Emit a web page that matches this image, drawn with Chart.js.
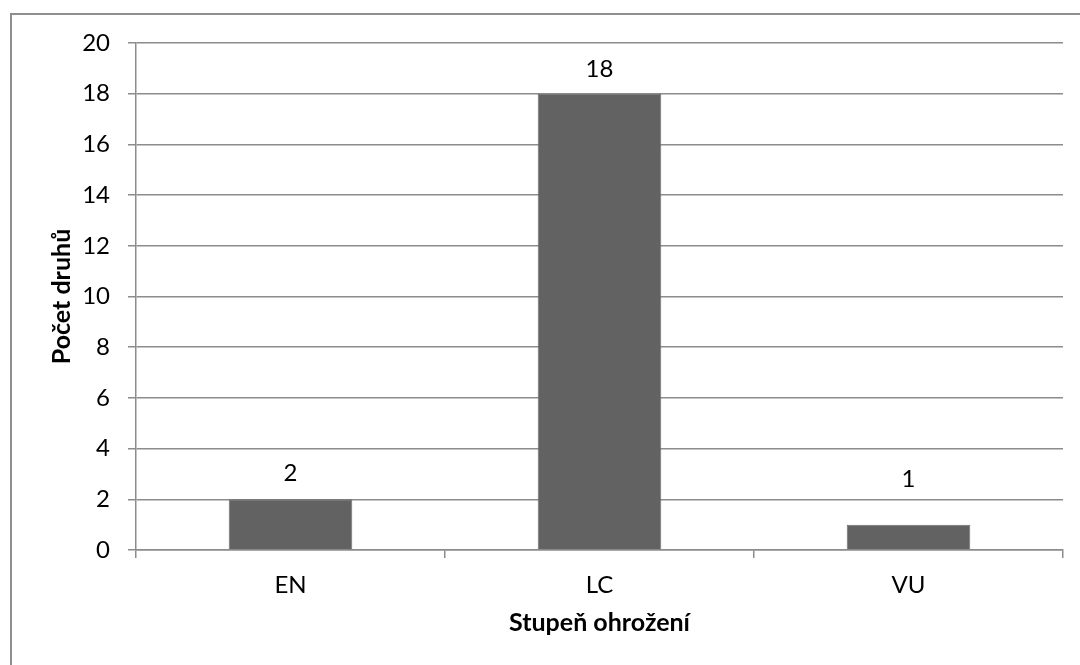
<!DOCTYPE html>
<html lang="cs">
<head>
<meta charset="utf-8">
<title>Stupeň ohrožení</title>
<script src="https://cdn.jsdelivr.net/npm/chart.js@4/dist/chart.umd.min.js"></script>
<style>
  html, body { margin: 0; padding: 0; background: #ffffff; }
  #wrap { position: relative; width: 1080px; height: 665px; overflow: hidden; }
  #frame {
    position: absolute; left: 10px; top: 13px; right: -10px; bottom: -10px;
    border-top: 2px solid #8e8e8e; border-left: 2px solid #8e8e8e;
    pointer-events: none;
  }
  canvas { position: absolute; left: 0; top: 0; }
</style>
</head>
<body>
<div id="wrap">
  <canvas id="chart" width="1080" height="665"></canvas>
  <div id="frame"></div>
</div>
<script>
// Threat categories and number of species in each
const categories = ['EN', 'LC', 'VU'];
const speciesCounts = [2, 18, 1];
const yAxisTicks = [0, 2, 4, 6, 8, 10, 12, 14, 16, 18, 20];

const FONT = "Lato, 'Open Sans', 'DejaVu Sans', sans-serif";
const GRID = '#8c8c8c';
const TEXT_SIZE = 24;
const TITLE_SIZE = 25;

// Writes each bar's value just above it
const valueLabels = {
  id: 'valueLabels',
  afterDatasetsDraw(chart, args, opts) {
    const ctx = chart.ctx;
    const meta = chart.getDatasetMeta(0);
    ctx.save();
    ctx.font = `${opts.size}px ${FONT}`;
    ctx.fillStyle = '#000';
    ctx.textAlign = 'center';
    ctx.textBaseline = 'middle';
    meta.data.forEach((bar, i) => {
      const v = chart.data.datasets[0].data[i];
      const gap = opts.gaps[i] ?? opts.gaps[0];
      ctx.fillText(String(v), bar.x, bar.y - gap);
    });
    ctx.restore();
  }
};

new Chart(document.getElementById('chart'), {
  type: 'bar',
  data: {
    labels: categories,
    datasets: [{
      data: speciesCounts,
      backgroundColor: '#626262',
      borderColor: '#6e6e6e',
      borderWidth: 1,
      barPercentage: 0.4,
      categoryPercentage: 1
    }]
  },
  options: {
    responsive: false,
    animation: false,
    devicePixelRatio: 1,
    layout: { padding: { top: 43, right: 17, left: 0, bottom: 0 } },
    plugins: {
      legend: { display: false },
      tooltip: { enabled: false },
      valueLabels: { size: TEXT_SIZE, gaps: [26, 24, 45] }
    },
    scales: {
      x: {
        offset: true,
        grid: {
          offset: true,
          drawOnChartArea: false,
          drawTicks: true,
          tickLength: 8,
          color: GRID,
          lineWidth: 1.5
        },
        border: { display: true, color: GRID, width: 1.5 },
        ticks: {
          color: '#000',
          padding: 13,
          font: { family: FONT, size: TEXT_SIZE }
        },
        title: {
          display: true,
          text: 'Stupeň ohrožení',
          color: '#000',
          font: { family: FONT, size: TITLE_SIZE, weight: 'bold' },
          padding: { top: 0, bottom: 27 }
        },
        afterFit(scale) { scale.height = 115; }
      },
      y: {
        min: 0,
        max: 20,
        afterBuildTicks(scale) {
          scale.ticks = yAxisTicks.map(v => ({ value: v }));
        },
        grid: {
          color: GRID,
          lineWidth: 1.5,
          drawTicks: true,
          tickLength: 8
        },
        border: { display: true, color: GRID, width: 1.5 },
        ticks: {
          color: '#000',
          padding: 18,
          font: { family: FONT, size: TEXT_SIZE }
        },
        title: {
          display: true,
          text: 'Počet druhů',
          color: '#000',
          font: { family: FONT, size: TITLE_SIZE, weight: 'bold' },
          padding: { top: 47, bottom: 0 }
        },
        afterFit(scale) { scale.width = 136; }
      }
    }
  },
  plugins: [valueLabels]
});
</script>
</body>
</html>
